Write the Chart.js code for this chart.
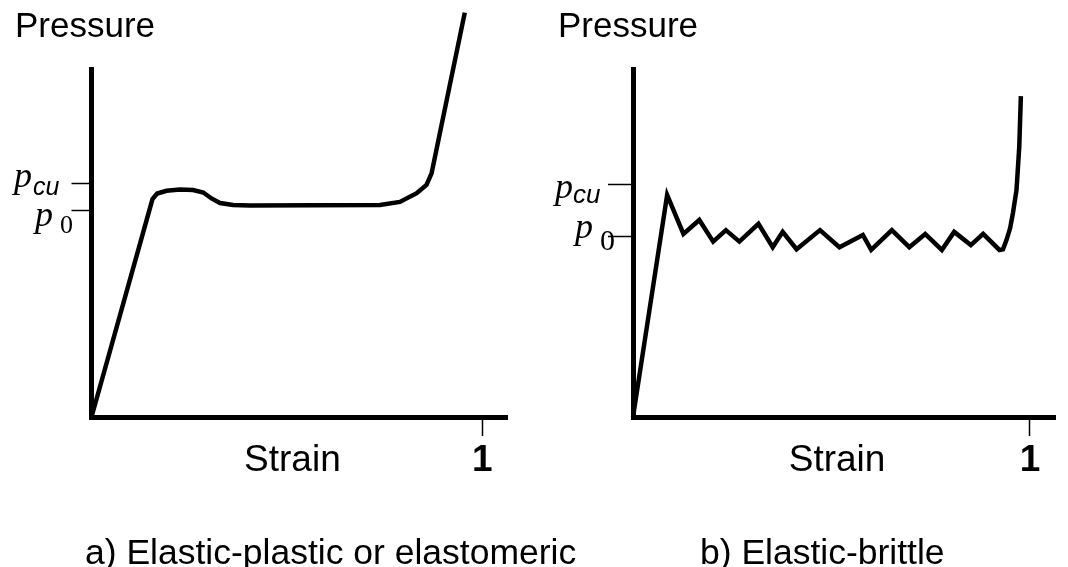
<!DOCTYPE html>
<html>
<head>
<meta charset="utf-8">
<script src="https://cdn.jsdelivr.net/npm/chart.js@4.4.1/dist/chart.umd.min.js"></script>
<style>
  html, body { margin: 0; padding: 0; background: #fff; }
  #wrap { position: relative; width: 1068px; height: 567px; }
  canvas { position: absolute; top: 0; }
</style>
</head>
<body>
<div id="wrap">
  <!-- left canvas is wider than half so its long caption fits; right one sits on top, transparent -->
  <canvas id="plasticChart" width="640" height="567" style="left:0"></canvas>
  <canvas id="brittleChart" width="534" height="567" style="left:534px"></canvas>
</div>
<script>
// values; pressure is in % of the drawn axis height
const plasticStrain   = [0, 0.156, 0.168, 0.192, 0.226, 0.260, 0.286, 0.307, 0.329, 0.362, 0.405, 0.738, 0.789, 0.832, 0.857, 0.870, 0.955];
const plasticPressure = [0, 62.6, 64.2, 65.0, 65.4, 65.2, 64.5, 62.8, 61.5, 60.9, 60.8, 60.9, 61.8, 64.3, 66.7, 70.0, 116.2];

const brittleStrain   = [0, 0.086, 0.127, 0.167, 0.202, 0.234, 0.268, 0.316, 0.352, 0.377, 0.412, 0.471, 0.520, 0.579, 0.600, 0.652, 0.696, 0.736, 0.778, 0.809, 0.851, 0.882, 0.923, 0.932, 0.941, 0.950, 0.957, 0.966, 0.973, 0.977];
const brittlePressure = [0, 63.8, 52.6, 56.6, 50.4, 53.7, 50.4, 55.5, 48.8, 53.2, 48.2, 53.7, 48.8, 52.3, 48.0, 53.7, 48.8, 52.6, 48.0, 53.2, 49.4, 52.6, 48.0, 48.2, 50.9, 54.3, 58.6, 65.2, 77.7, 92.2];

// tick positions: p0 and pcu on the pressure axis
const plasticPressureTicks = [59.2, 67.2];
const brittlePressureTicks = [52.0, 66.7];
const pressureTickSubs = ['0', 'cu'];

// strain axis: axis name sits on the tick row, only "1" gets a tick mark
const strainTickValues = [0.514, 1];
const strainTickLabels = ['Strain', '1'];

const SANS = '"Liberation Sans", Arial, sans-serif';
const SERIF = '"Liberation Serif", "Times New Roman", serif';

// draws "Pressure", the caption and the p labels next to the y ticks
const annotate = {
    id: 'annotate',
    afterDraw(chart, args, opts) {
        const ctx = chart.ctx;
        const yScale = chart.scales.y;
        ctx.save();
        ctx.fillStyle = '#000';
        ctx.textAlign = 'left';
        ctx.textBaseline = 'alphabetic';
        ctx.font = '35px ' + SANS;
        ctx.fillText('Pressure', opts.titleX, 37);
        ctx.font = '35.5px ' + SANS;
        ctx.fillText(opts.caption, opts.captionX, 564);
        opts.marks.forEach(function (m, i) {
            const py = yScale.getPixelForValue(yScale.ticks[i].value);
            ctx.font = 'italic 36px ' + SERIF;
            ctx.fillText('p', m.x, py + m.dy);
            ctx.font = m.subFont;
            ctx.fillText(pressureTickSubs[i], m.subX, py + m.subDy);
        });
        ctx.restore();
    }
};

function makeChart(id, strain, pressure, pressureTicks, dims, notes) {
    const points = strain.map((s, i) => ({ x: s, y: pressure[i] }));
    return new Chart(document.getElementById(id), {
        type: 'line',
        data: {
            datasets: [{
                data: points,
                borderColor: '#000',
                borderWidth: 4.5,
                pointRadius: 0,
                tension: 0,
                clip: false,
            }],
        },
        options: {
            responsive: false,
            animation: false,
            devicePixelRatio: 1,
            layout: { padding: { left: 0, top: 69, right: dims.padRight, bottom: 0 } },
            plugins: {
                legend: { display: false },
                tooltip: { enabled: false },
                annotate: notes,
            },
            scales: {
                x: {
                    type: 'linear',
                    min: 0,
                    max: 1.063,
                    afterBuildTicks: s => { s.ticks = strainTickValues.map(v => ({ value: v })); },
                    afterFit: s => { s.height = 150; },
                    ticks: {
                        autoSkip: false,
                        maxRotation: 0,
                        padding: 3,
                        color: '#000',
                        callback: (v, i) => strainTickLabels[i],
                        font: ctx => ({
                            family: SANS,
                            size: 37,
                            weight: ctx.tick && ctx.tick.value === 1 ? 'bold' : 'normal',
                        }),
                    },
                    grid: {
                        drawOnChartArea: false,
                        tickLength: 19,
                        tickWidth: 1.5,
                        tickColor: ctx => (ctx.tick && ctx.tick.value === 1 ? '#000' : 'rgba(0,0,0,0)'),
                    },
                    border: { color: '#000', width: 5 },
                },
                y: {
                    type: 'linear',
                    min: 0,
                    max: 100,
                    afterBuildTicks: s => { s.ticks = pressureTicks.map(v => ({ value: v })); },
                    afterFit: s => { s.width = dims.axisLeft; },
                    ticks: { display: false },
                    grid: {
                        drawOnChartArea: false,
                        tickLength: dims.tickLen,
                        tickWidth: 1.5,
                        tickColor: '#000',
                    },
                    border: { color: '#000', width: 5 },
                },
            },
        },
        plugins: [annotate],
    });
}

makeChart('plasticChart', plasticStrain, plasticPressure, plasticPressureTicks,
    { padRight: 133, axisLeft: 91.5, tickLen: 20 },
    {
        titleX: 15,
        caption: 'a) Elastic-plastic or elastomeric',
        captionX: 85,
        marks: [
            { x: 35, dy: 15, subFont: '26px ' + SERIF, subX: 60, subDy: 22 },
            { x: 14, dy: 4, subFont: 'italic 25px ' + SANS, subX: 33, subDy: 12 },
        ],
    });

makeChart('brittleChart', brittleStrain, brittlePressure, brittlePressureTicks,
    { padRight: 13, axisLeft: 99, tickLen: 25 },
    {
        titleX: 24,
        caption: 'b) Elastic-brittle',
        captionX: 166,
        marks: [
            { x: 41, dy: 2, subFont: '30px ' + SERIF, subX: 66, subDy: 14 },
            { x: 21, dy: 13, subFont: 'italic 26px ' + SANS, subX: 39, subDy: 18 },
        ],
    });
</script>
</body>
</html>
